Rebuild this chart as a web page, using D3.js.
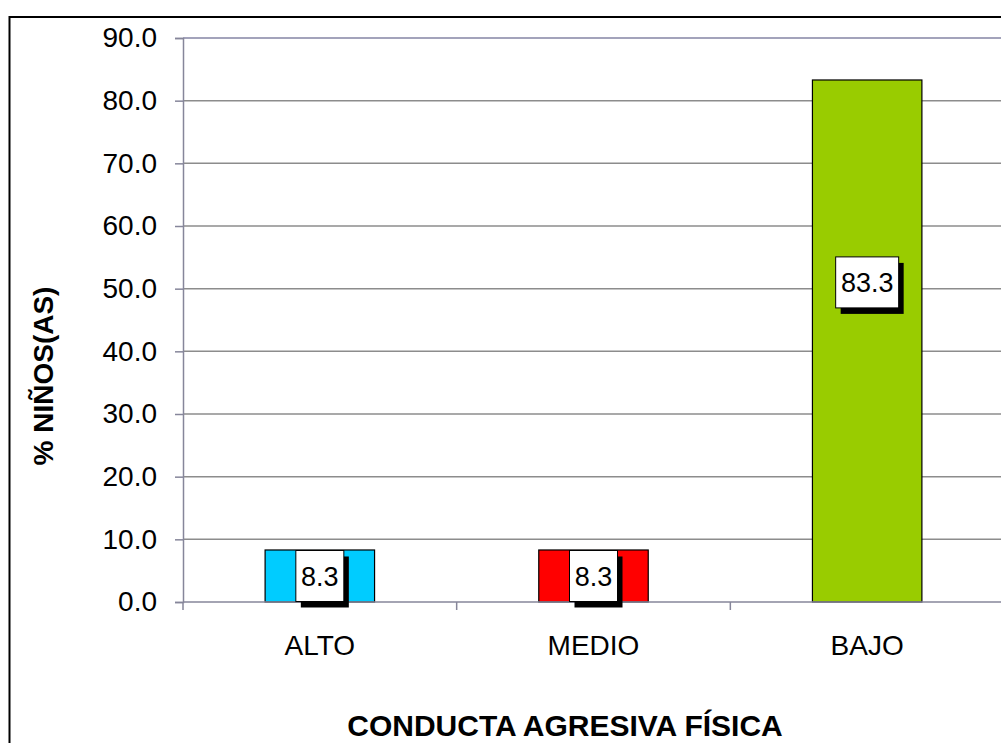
<!DOCTYPE html>
<html>
<head>
<meta charset="utf-8">
<script src="https://cdn.jsdelivr.net/npm/d3@7"></script>
<style>
  body { margin: 0; background: #fff; }
  text { font-family: Arial, "Liberation Sans", sans-serif; }
</style>
</head>
<body>
<div id="chart"></div>
<script>
// Chart data
var categories = ["ALTO", "MEDIO", "BAJO"];
var values = [8.3, 8.3, 83.3];
var colors = ["#00CCFF", "#FF0000", "#99CC00"];
var yTicks = [0, 10, 20, 30, 40, 50, 60, 70, 80, 90];

var svgWidth = 1001;
var svgHeight = 743;

var margin = { top: 38, right: -3, bottom: 141, left: 183 };
var width = svgWidth - margin.left - margin.right;
var height = svgHeight - margin.top - margin.bottom;

var svg = d3.select("#chart")
    .append("svg")
    .attr("width", svgWidth)
    .attr("height", svgHeight);

// outer chart border
svg.append("rect")
    .attr("x", 9.5)
    .attr("y", 17)
    .attr("width", 1020)
    .attr("height", 760)
    .attr("fill", "none")
    .attr("stroke", "#000")
    .attr("stroke-width", 2);

var g = svg.append("g")
    .attr("transform", `translate(${margin.left}, ${margin.top})`);

var x = d3.scaleBand()
    .domain(categories)
    .range([0, width]);

var y = d3.scaleLinear()
    .domain([0, 90])
    .range([height, 0]);

// gridlines
g.selectAll(".grid")
    .data(yTicks.slice(1))
    .enter()
    .append("line")
    .attr("x1", 0)
    .attr("x2", width)
    .attr("y1", d => y(d))
    .attr("y2", d => y(d))
    .attr("stroke", d => d === 90 ? "#8484a4" : "#8c8c8c")
    .attr("stroke-width", 1.5);

// bars
var barW = x.bandwidth() * 0.4;
g.selectAll(".bar")
    .data(values)
    .enter()
    .append("rect")
    .attr("x", (d, i) => x(categories[i]) + (x.bandwidth() - barW) / 2)
    .attr("y", d => y(d))
    .attr("width", barW)
    .attr("height", d => height - y(d))
    .attr("fill", (d, i) => colors[i])
    .attr("stroke", "#000")
    .attr("stroke-width", 1.2);

// y axis
var leftAxis = d3.axisLeft(y)
    .tickValues(yTicks)
    .tickFormat(d3.format(".1f"))
    .tickSize(8)
    .tickPadding(18);

var yAxis = g.append("g").call(leftAxis);
yAxis.select(".domain").attr("stroke", "#86869a").attr("stroke-width", 1.5);
yAxis.selectAll(".tick line").attr("stroke", "#86869a").attr("stroke-width", 1.5);
yAxis.selectAll("text")
    .attr("font-size", 28)
    .attr("fill", "#000")
    .style("font-family", "Arial, 'Liberation Sans', sans-serif");

// x axis
var xAxisG = g.append("g").attr("transform", `translate(0, ${height})`);
xAxisG.append("line")
    .attr("x1", 0).attr("x2", width)
    .attr("stroke", "#86869a").attr("stroke-width", 1.5);
xAxisG.selectAll(".xtick")
    .data(d3.range(categories.length + 1))
    .enter()
    .append("line")
    .attr("x1", d => d * x.step())
    .attr("x2", d => d * x.step())
    .attr("y1", 0)
    .attr("y2", 8)
    .attr("stroke", "#86869a")
    .attr("stroke-width", 1.5);
xAxisG.selectAll(".xlabel")
    .data(categories)
    .enter()
    .append("text")
    .attr("x", d => x(d) + x.bandwidth() / 2)
    .attr("y", 53)
    .attr("text-anchor", "middle")
    .attr("font-size", 28)
    .text(d => d);

// data labels with shadow box (tall bars: label sits lower than top)
var labels = g.selectAll(".lbl")
    .data(values)
    .enter()
    .append("g")
    .attr("transform", (d, i) => {
        var cx = x(categories[i]) + x.bandwidth() / 2;
        var cy = y(Math.max(d / 2, d - 32.3));
        return `translate(${cx}, ${cy})`;
    });

labels.each(function (d) {
    var lg = d3.select(this);
    var txt = d.toFixed(1);
    var w = txt.length > 3 ? 63 : 48;
    var h = 51;
    lg.append("rect")
        .attr("x", -w / 2 + 5)
        .attr("y", -h / 2 + 6)
        .attr("width", w)
        .attr("height", h)
        .attr("fill", "#000");
    lg.append("rect")
        .attr("x", -w / 2)
        .attr("y", -h / 2)
        .attr("width", w)
        .attr("height", h)
        .attr("fill", "#fff")
        .attr("stroke", "#000")
        .attr("stroke-width", 1);
    lg.append("text")
        .attr("x", 0)
        .attr("y", 10)
        .attr("text-anchor", "middle")
        .attr("font-size", 27)
        .text(txt);
});

// axis titles
svg.append("text")
    .attr("x", 565)
    .attr("y", 736)
    .attr("text-anchor", "middle")
    .attr("font-size", 30)
    .attr("font-weight", "bold")
    .text("CONDUCTA AGRESIVA FÍSICA");

svg.append("text")
    .attr("transform", "translate(53, 376) rotate(-90)")
    .attr("text-anchor", "middle")
    .attr("font-size", 28)
    .attr("font-weight", "bold")
    .text("% NIÑOS(AS)");
</script>
</body>
</html>
